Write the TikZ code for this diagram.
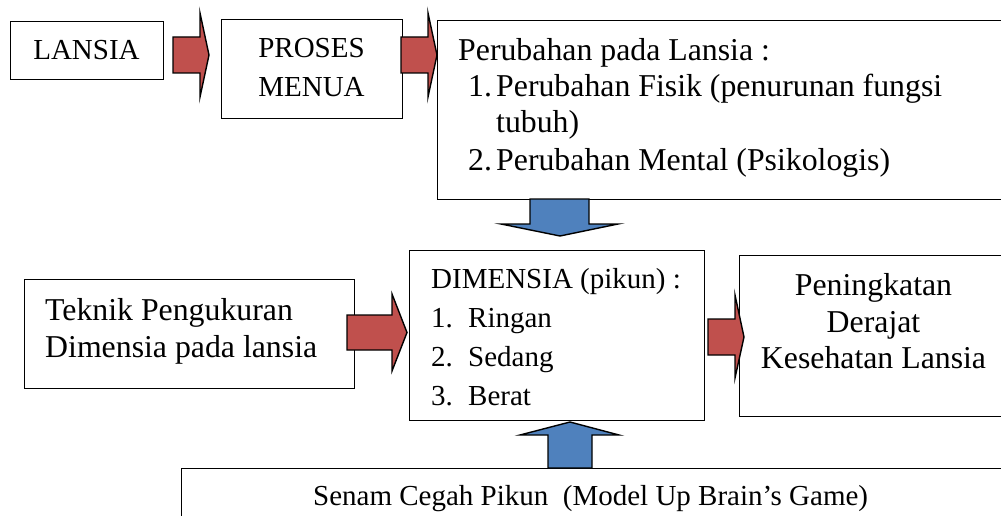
\documentclass[tikz,border=0pt]{standalone}
\usepackage{fontspec}
\setmainfont{Liberation Serif}
\definecolor{redfill}{HTML}{C0504D}
\definecolor{bluefill}{HTML}{4F81BD}
\begin{document}
\begin{tikzpicture}[x=1pt,y=-1pt,
  box/.style={draw=black,line width=1.4pt,fill=white,inner sep=0pt,anchor=north west},
  txt/.style={inner sep=0pt,anchor=base west,font=\fontsize{29}{34}\selectfont},
  ctxt/.style={inner sep=0pt,anchor=base,font=\fontsize{29}{34}\selectfont},
  btxt/.style={inner sep=0pt,anchor=base west,font=\fontsize{31.8}{38}\selectfont},
  bctxt/.style={inner sep=0pt,anchor=base,font=\fontsize{31.8}{38}\selectfont},
  redarrow/.style={draw=black,line width=1.4pt,fill=redfill,line join=miter},
  bluearrow/.style={draw=black,line width=1.4pt,fill=bluefill,line join=miter}]
\useasboundingbox (0,0) rectangle (1001,516);
\clip (0,0) rectangle (1001,516);
% boxes
\node[box,minimum width=153,minimum height=58] (lansia) at (10,21) {};
\node[box,minimum width=181,minimum height=99] (proses) at (221,19) {};
\node[box,minimum width=590,minimum height=179] (perubahan) at (437,20) {};
\node[box,minimum width=330,minimum height=109] (teknik) at (24,279) {};
\node[box,minimum width=295,minimum height=170] (dimensia) at (409,250) {};
\node[box,minimum width=290,minimum height=161] (peningkatan) at (739,255) {};
\node[box,minimum width=850,minimum height=80] (senam) at (181,468) {};
% texts
\node[ctxt] (t1) at (86.5,60) {LANSIA};
\node[ctxt] (t2) at (311.5,58) {PROSES};
\node[ctxt] (t3) at (311.5,97) {MENUA};
\node[btxt] (p0) at (458,61) {Perubahan pada Lansia :};
\node[btxt] (p1n) at (468,97) {1.};
\node[btxt] (p1) at (496,97) {Perubahan Fisik (penurunan fungsi};
\node[btxt] (p1b) at (496,133) {tubuh)};
\node[btxt] (p2n) at (468,170) {2.};
\node[btxt] (p2) at (496,170) {Perubahan Mental (Psikologis)};
\node[btxt] (k1) at (45,320) {Teknik Pengukuran};
\node[btxt] (k2) at (45,357) {Dimensia pada lansia};
\node[txt] (d0) at (431,288) {DIMENSIA (pikun) :};
\node[txt] (d1n) at (431,327) {1.};
\node[txt] (d1) at (468,327) {Ringan};
\node[txt] (d2n) at (431,366) {2.};
\node[txt] (d2) at (468,366) {Sedang};
\node[txt] (d3n) at (431,405) {3.};
\node[txt] (d3) at (468,405) {Berat};
\node[bctxt] (q1) at (873.5,295) {Peningkatan};
\node[bctxt] (q2) at (873.5,332) {Derajat};
\node[bctxt] (q3) at (873.5,368) {Kesehatan Lansia};
\node[txt] (s1) at (313,505) {Senam Cegah Pikun\hspace{0.5em}(Model Up Brain’s Game)};
% block arrows
\draw[redarrow] (173,37) -- (200,37) -- (200,13) -- (209,55) -- (200,97) -- (200,73) -- (173,73) -- cycle;
\draw[redarrow] (401,37) -- (428,37) -- (428,13) -- (437,55) -- (428,97) -- (428,73) -- (401,73) -- cycle;
\draw[redarrow] (347,315) -- (392,315) -- (392,294) -- (407,332.5) -- (392,371) -- (392,350) -- (347,350) -- cycle;
\draw[redarrow] (708,319) -- (735,319) -- (735,295) -- (744,337) -- (735,378) -- (735,355) -- (708,355) -- cycle;
\draw[bluearrow] (530,199) -- (589,199) -- (589,224) -- (618,224) -- (560,236) -- (501,224) -- (530,224) -- cycle;
\draw[bluearrow] (548,468) -- (548,435) -- (520,435) -- (570,422) -- (619,435) -- (592,435) -- (592,468) -- cycle;
\end{tikzpicture}
\end{document}
